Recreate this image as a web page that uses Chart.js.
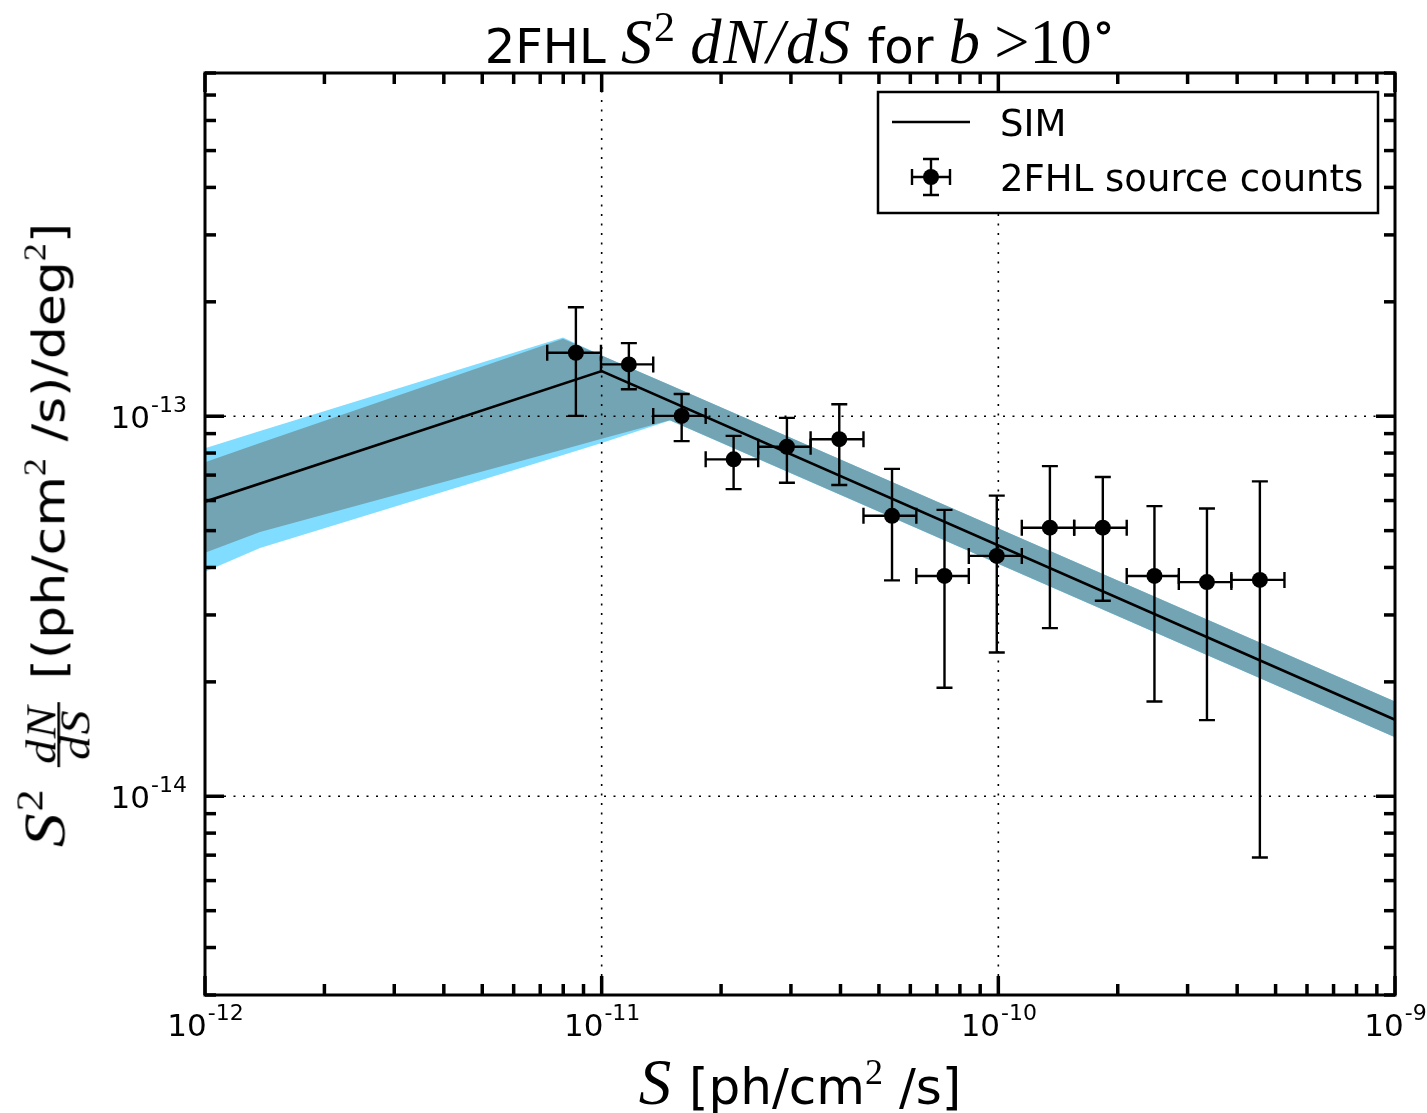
<!DOCTYPE html>
<html>
<head>
<meta charset="utf-8">
<script src="https://cdn.jsdelivr.net/npm/chart.js@4.4.1/dist/chart.umd.min.js"></script>
<style>
  html, body { margin: 0; padding: 0; background: #fff; }
  #wrap { position: relative; width: 1427px; height: 1113px; overflow: hidden; }
  #chart { position: absolute; left: 0; top: 0; }
  .lbl { position: absolute; font-family: "DejaVu Sans", sans-serif; color: #000; white-space: nowrap; }
  .m { font-family: "Liberation Serif", "DejaVu Serif", serif; font-style: italic; font-size: 1.3em; letter-spacing: 0.03em; }
  .rb { font-family: "Liberation Serif", "DejaVu Serif", serif; font-style: normal; font-size: 1.3em; }
  .sp { font-family: "Liberation Serif", "DejaVu Serif", serif; font-style: normal; line-height: 0; position: relative; }
  .frac { display: inline-block; vertical-align: -29px; text-align: center; font-size: 48px; line-height: 36px; margin: 0 6px; }
  .frac .num { display: block; border-bottom: 3px solid #000; padding: 0 3px; }
  .frac .den { display: block; }
  .frac .m { font-size: 1em; }
</style>
</head>
<body>
<div id="wrap">
  <canvas id="chart" width="1427" height="1113"></canvas>
  <div class="lbl" id="title" style="left:205px; width:1190px; text-align:center; top:18px; font-size:48px; line-height:48px;">2FHL <span class="m">S</span><span class="sp" style="font-size:42px; top:-22px;">2</span> <span class="m">dN/dS</span> for <span class="m">b</span><span class="rb">&#8201;&gt;10</span><span class="sp" style="font-size:48px; top:-20px;">∘</span></div>
  <div class="lbl" id="xlabel" style="left:205px; width:1190px; text-align:center; top:1057px; font-size:50px; line-height:50px;"><span class="m">S</span> [ph/cm<span class="sp" style="font-size:36px; top:-20px;">2</span> /s]</div>
  <div class="lbl" id="ylabel" style="left:57px; top:535px; font-size:52px; line-height:52px; transform: translate(-50%, -50%) rotate(-90deg) scaleY(0.86);"><span class="m">S</span><span class="sp" style="font-size:44px; top:-26px;">2</span> <span class="frac"><span class="num m">dN</span><span class="den m">dS</span></span> [(ph/cm<span class="sp" style="font-size:36px; top:-22px;">2</span> /s)/deg<span class="sp" style="font-size:36px; top:-22px;">2</span>]</div>
</div>
<script>
// axis limits and ticks
const xMin = 1e-12, xMax = 1e-9;
const yMin = 3e-15, yMax = 8e-13;
const xMajor = [1e-12, 1e-11, 1e-10, 1e-9];
const xMajorExp = ["-12", "-11", "-10", "-9"];
const yMajor = [1e-14, 1e-13];
const yMajorExp = ["-14", "-13"];
const minorMult = [2, 3, 4, 5, 6, 7, 8, 9];

// simulated source counts band (two confidence bands) and best line
const bandX = [1e-12, 1.376e-12, 7.99e-12, 1e-11, 1.486e-11, 1e-9];
const wideUpper = [8.24e-14, 9.14e-14, 1.61e-13, 1.445e-13, 1.208e-13, 1.776e-14];
const wideLower = [3.90e-14, 4.50e-14, 7.91e-14, 8.50e-14, 9.74e-14, 1.429e-14];
const narrowUpper = [7.57e-14, 8.50e-14, 1.60e-13, 1.445e-13, 1.208e-13, 1.776e-14];
const narrowLower = [4.37e-14, 4.96e-14, 8.18e-14, 8.72e-14, 9.76e-14, 1.429e-14];
const simX = [1e-12, 1e-11, 1e-9];
const simY = [5.96e-14, 1.315e-13, 1.59e-14];

// 2FHL source counts: flux bin centre, bin edges, value and error range
const fluxMid = [8.61e-12, 1.171e-11, 1.591e-11, 2.151e-11, 2.931e-11, 3.972e-11, 5.395e-11, 7.316e-11, 9.91e-11, 1.349e-10, 1.834e-10, 2.475e-10, 3.357e-10, 4.564e-10];
const fluxLo = [7.29e-12, 9.96e-12, 1.349e-11, 1.829e-11, 2.481e-11, 3.363e-11, 4.571e-11, 6.213e-11, 8.425e-11, 1.146e-10, 1.553e-10, 2.107e-10, 2.851e-10, 3.868e-10];
const fluxHi = [9.96e-12, 1.349e-11, 1.829e-11, 2.481e-11, 3.363e-11, 4.571e-11, 6.213e-11, 8.425e-11, 1.146e-10, 1.553e-10, 2.107e-10, 2.851e-10, 3.868e-10, 5.264e-10];
const counts = [1.469e-13, 1.369e-13, 1.002e-13, 7.70e-14, 8.31e-14, 8.70e-14, 5.47e-14, 3.80e-14, 4.29e-14, 5.09e-14, 5.09e-14, 3.80e-14, 3.66e-14, 3.71e-14];
const countsLo = [1.002e-13, 1.177e-13, 8.60e-14, 6.43e-14, 6.68e-14, 6.59e-14, 3.70e-14, 1.93e-14, 2.39e-14, 2.77e-14, 3.27e-14, 1.776e-14, 1.586e-14, 6.90e-15];
const countsHi = [1.936e-13, 1.557e-13, 1.144e-13, 8.88e-14, 9.90e-14, 1.075e-13, 7.27e-14, 5.67e-14, 6.18e-14, 7.39e-14, 6.92e-14, 5.80e-14, 5.72e-14, 6.74e-14];

const cyan = "#80ddff";
const steel = "#72a4b4";

function pts(xs, ys) {
  return xs.map((x, i) => ({ x: x, y: ys[i] }));
}

// minor tick values inside an axis range
function minorTicks(lo, hi) {
  const out = [];
  for (let e = Math.floor(Math.log10(lo)); e <= Math.ceil(Math.log10(hi)); e++) {
    minorMult.forEach(m => {
      const v = m * Math.pow(10, e);
      if (v >= lo * 0.999 && v <= hi * 1.001) out.push(v);
    });
  }
  return out;
}

function drawPow(ctx, exp, x, y, mode) {
  ctx.font = '31px "DejaVu Sans"';
  const wb = ctx.measureText("10").width;
  ctx.font = '22px "DejaVu Sans"';
  const we = ctx.measureText(exp).width;
  let x0, yb;
  if (mode === "x") { x0 = x - (wb + we) / 2; yb = 1036; }
  else { x0 = 186 - (wb + we); yb = y + 12; }
  ctx.textAlign = "left";
  ctx.textBaseline = "alphabetic";
  ctx.font = '31px "DejaVu Sans"';
  ctx.fillText("10", x0, yb);
  ctx.font = '22px "DejaVu Sans"';
  ctx.fillText(exp, x0 + wb + 1, yb - 16);
}

function errorBar(ctx, x1, y1, x2, y2, cap, vertical) {
  ctx.beginPath();
  ctx.moveTo(x1, y1); ctx.lineTo(x2, y2);
  if (vertical) {
    ctx.moveTo(x1 - cap, y1); ctx.lineTo(x1 + cap, y1);
    ctx.moveTo(x2 - cap, y2); ctx.lineTo(x2 + cap, y2);
  } else {
    ctx.moveTo(x1, y1 - cap); ctx.lineTo(x1, y1 + cap);
    ctx.moveTo(x2, y2 - cap); ctx.lineTo(x2, y2 + cap);
  }
  ctx.stroke();
}

const overlay = {
  id: "overlay",
  afterDatasetsDraw(chart) {
    const ctx = chart.ctx;
    const a = chart.chartArea;
    const xs = chart.scales.x, ys = chart.scales.y;
    ctx.save();
    ctx.fillStyle = "#000";
    ctx.strokeStyle = "#000";

    // dotted grid at decades
    ctx.lineWidth = 1.6;
    ctx.setLineDash([2, 7.5]);
    xMajor.forEach(v => {
      const px = xs.getPixelForValue(v);
      if (px > a.left + 3 && px < a.right - 3) {
        ctx.beginPath(); ctx.moveTo(px, a.bottom); ctx.lineTo(px, a.top); ctx.stroke();
      }
    });
    yMajor.forEach(v => {
      const py = ys.getPixelForValue(v);
      ctx.beginPath(); ctx.moveTo(a.left, py); ctx.lineTo(a.right, py); ctx.stroke();
    });
    ctx.setLineDash([]);

    // error bars
    ctx.lineWidth = 2.4;
    fluxMid.forEach((f, i) => {
      const px = xs.getPixelForValue(f);
      const py = ys.getPixelForValue(counts[i]);
      errorBar(ctx, px, ys.getPixelForValue(countsHi[i]), px, ys.getPixelForValue(countsLo[i]), 8, true);
      errorBar(ctx, xs.getPixelForValue(fluxLo[i]), py, xs.getPixelForValue(fluxHi[i]), py, 8, false);
    });

    // frame
    ctx.lineWidth = 3;
    ctx.strokeRect(a.left, a.top, a.right - a.left, a.bottom - a.top);

    // inward ticks on all sides
    ctx.lineWidth = 3.5;
    const tick = (x1, y1, x2, y2) => { ctx.beginPath(); ctx.moveTo(x1, y1); ctx.lineTo(x2, y2); ctx.stroke(); };
    xMajor.forEach(v => {
      const px = xs.getPixelForValue(v);
      tick(px, a.bottom, px, a.bottom - 19); tick(px, a.top, px, a.top + 19);
    });
    minorTicks(xMin, xMax).forEach(v => {
      const px = xs.getPixelForValue(v);
      tick(px, a.bottom, px, a.bottom - 11); tick(px, a.top, px, a.top + 11);
    });
    yMajor.forEach(v => {
      const py = ys.getPixelForValue(v);
      tick(a.left, py, a.left + 19, py); tick(a.right, py, a.right - 19, py);
    });
    minorTicks(yMin, yMax).forEach(v => {
      const py = ys.getPixelForValue(v);
      tick(a.left, py, a.left + 11, py); tick(a.right, py, a.right - 11, py);
    });

    // tick labels
    xMajor.forEach((v, i) => drawPow(ctx, xMajorExp[i], xs.getPixelForValue(v), 0, "x"));
    yMajor.forEach((v, i) => drawPow(ctx, yMajorExp[i], 0, ys.getPixelForValue(v), "y"));

    // legend
    ctx.fillStyle = "#fff";
    ctx.fillRect(878, 92, 500, 121);
    ctx.lineWidth = 2.5;
    ctx.strokeRect(878, 92, 500, 121);
    ctx.fillStyle = "#000";
    ctx.beginPath(); ctx.moveTo(892, 122); ctx.lineTo(970, 122); ctx.stroke();
    ctx.lineWidth = 2.4;
    errorBar(ctx, 931, 159, 931, 195, 8, true);
    errorBar(ctx, 912, 177, 950, 177, 8, false);
    ctx.beginPath(); ctx.arc(931, 177, 8, 0, Math.PI * 2); ctx.fill();
    ctx.font = '37px "DejaVu Sans"';
    ctx.textAlign = "left";
    ctx.textBaseline = "alphabetic";
    ctx.fillText("SIM", 1000, 136);
    ctx.fillText("2FHL source counts", 1000, 191);
    ctx.restore();
  }
};

new Chart(document.getElementById("chart"), {
  type: "scatter",
  data: {
    datasets: [
      { label: "band wide", data: pts(bandX, wideUpper), showLine: true, borderWidth: 0, pointRadius: 0, backgroundColor: cyan, fill: "+1", order: 6 },
      { label: "band wide low", data: pts(bandX, wideLower), showLine: true, borderWidth: 0, pointRadius: 0, order: 5 },
      { label: "band", data: pts(bandX, narrowUpper), showLine: true, borderWidth: 0, pointRadius: 0, backgroundColor: steel, fill: "+1", order: 4 },
      { label: "band low", data: pts(bandX, narrowLower), showLine: true, borderWidth: 0, pointRadius: 0, order: 3 },
      { label: "SIM", data: pts(simX, simY), showLine: true, borderColor: "#000", borderWidth: 2.6, pointRadius: 0, fill: false, order: 2 },
      { label: "2FHL source counts", data: pts(fluxMid, counts), showLine: false, pointRadius: 8, pointBackgroundColor: "#000", pointBorderWidth: 0, order: 1 }
    ]
  },
  options: {
    responsive: false,
    animation: false,
    layout: { padding: { left: 205, top: 73, right: 32, bottom: 118 } },
    plugins: { legend: { display: false }, tooltip: { enabled: false } },
    scales: {
      x: { type: "logarithmic", min: xMin, max: xMax, display: false },
      y: { type: "logarithmic", min: yMin, max: yMax, display: false }
    }
  },
  plugins: [overlay]
});
</script>
</body>
</html>
